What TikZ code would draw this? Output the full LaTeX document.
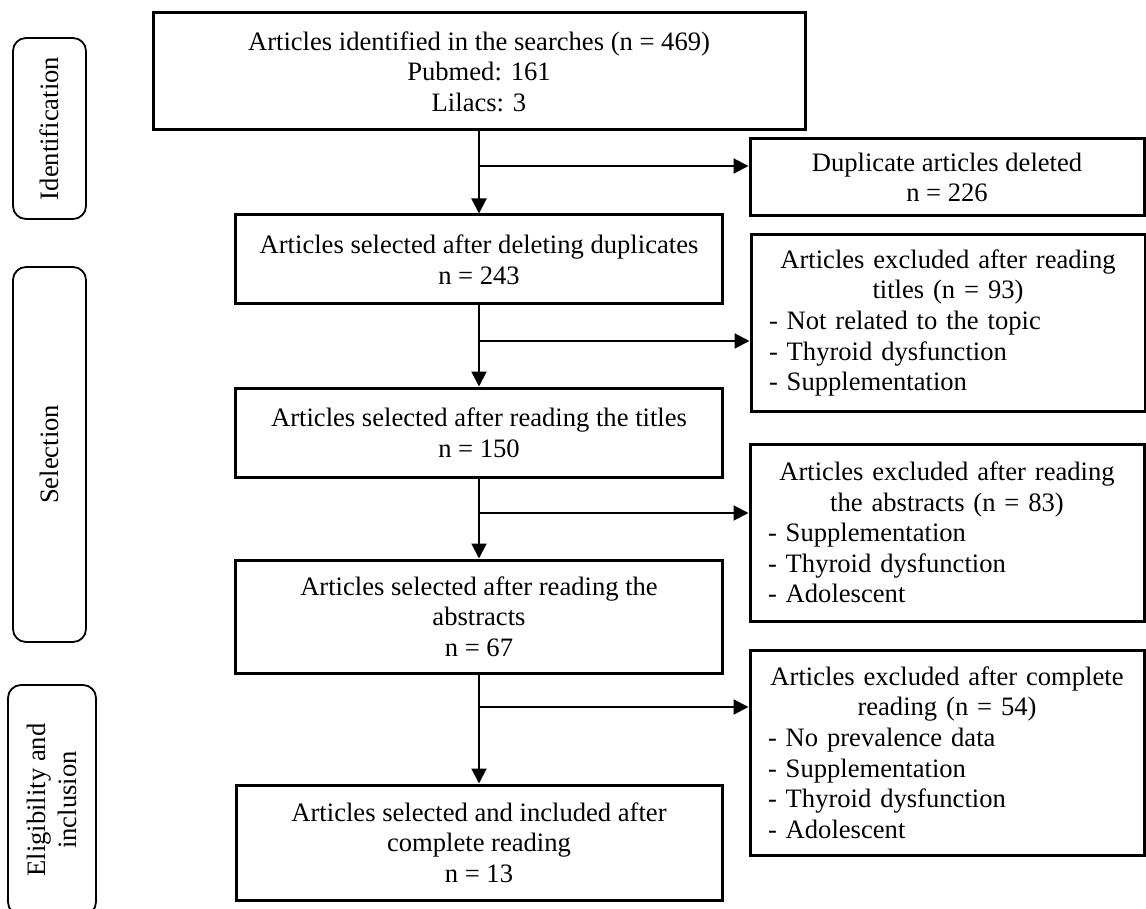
\documentclass[tikz,border=0pt]{standalone}
\usepackage{fontspec}
\setmainfont{Liberation Serif}
\usepackage{tikz}
\usetikzlibrary{arrows.meta}

\tikzset{
  stepnode/.style={draw,line width=1.5pt,align=center,inner sep=0pt,font=\fontsize{13.3}{15.3}\selectfont},
  exclnode/.style={draw,line width=1.5pt,align=left,text width=179pt,inner xsep=9pt,inner ysep=0pt,font=\fontsize{13.3}{15.3}\selectfont},
  phasenode/.style={draw,line width=0.9pt,rounded corners=6.5pt,rotate=90,align=center,inner sep=0pt,font=\fontsize{13.3}{15.3}\selectfont},
  flowarrow/.style={line width=1pt,-{Triangle[length=7.5pt,width=7.5pt]}}
}

\begin{document}
\begin{tikzpicture}[x=0.5pt,y=-0.5pt]
                      \useasboundingbox (0,0) rectangle (1146,909);
                      \clip (0,0) rectangle (1146,909);
                      \node[phasenode,minimum width=90.5pt,minimum height=36.5pt](ident)at(49.5,128.5){Identification};
                      \node[phasenode,minimum width=187.5pt,minimum height=36.5pt](selec)at(49.5,454.5){Selection};
                      \node[phasenode,minimum width=115pt,minimum height=44pt](elig)at(52,800){Eligibility and\\inclusion};
                      \node[stepnode,minimum width=326pt,minimum height=58.5pt](srch)at(479,71.5){Articles identified in the searches (n = 469)\\Pubmed: 161\\Lilacs: 3};
                      \node[stepnode,minimum width=197pt,minimum height=38.5pt](dup)at(947,177.5){Duplicate articles deleted\\n = 226};
                      \node[stepnode,minimum width=243.5pt,minimum height=44.5pt](sel1)at(479,259.5){Articles selected after deleting duplicates\\n = 243};
                      \node[exclnode,minimum height=88pt](exc1)at(948,323){{\centering Articles excluded after reading\\titles (n = 93)\par}- Not related to the topic\\- Thyroid dysfunction\\- Supplementation};
                      \node[stepnode,minimum width=243.5pt,minimum height=44.5pt](sel2)at(479,432.5){Articles selected after reading the titles\\n = 150};
                      \node[exclnode,minimum height=88.5pt](exc2)at(947,532.5){{\centering Articles excluded after reading\\the abstracts (n = 83)\par}- Supplementation\\- Thyroid dysfunction\\- Adolescent};
                      \node[stepnode,minimum width=243.5pt,minimum height=56.5pt](sel3)at(479,616.5){Articles selected after reading the\\abstracts\\n = 67};
                      \node[exclnode,minimum height=102.5pt](exc3)at(947,752.5){{\centering Articles excluded after complete\\reading (n = 54)\par}- No prevalence data\\- Supplementation\\- Thyroid dysfunction\\- Adolescent};
                      \node[stepnode,minimum width=243pt,minimum height=57.5pt](incl)at(479,842.5){Articles selected and included after\\complete reading\\n = 13};
                      \coordinate (b1) at (479,166);
                      \coordinate (b2) at (479,341);
                      \coordinate (b3) at (479,513);
                      \coordinate (b4) at (479,707);
                      \draw[flowarrow] (srch) -- (sel1);
                      \draw[flowarrow] (sel1) -- (sel2);
                      \draw[flowarrow] (sel2) -- (sel3);
                      \draw[flowarrow] (sel3) -- (incl);
                      \draw[flowarrow] (b1) -- (b1 -| dup.west);
                      \draw[flowarrow] (b2) -- (b2 -| exc1.west);
                      \draw[flowarrow] (b3) -- (b3 -| exc2.west);
                      \draw[flowarrow] (b4) -- (b4 -| exc3.west);
                  \end{tikzpicture}
\end{document}
